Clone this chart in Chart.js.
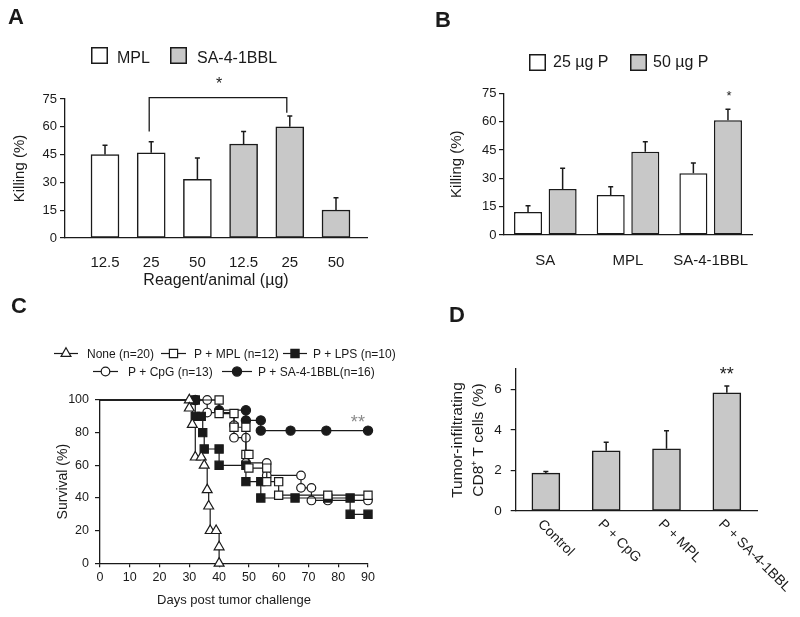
<!DOCTYPE html>
<html>
<head>
<meta charset="utf-8">
<script src="https://cdn.jsdelivr.net/npm/chart.js@4.4.0/dist/chart.umd.min.js"></script>
<style>
  body { margin: 0; background: #fff; width: 800px; height: 617px; position: relative; overflow: hidden; }
  canvas { position: absolute; }
</style>
</head>
<body>
<canvas id="chartA" width="400" height="290" style="left:0;top:0"></canvas>
<canvas id="chartB" width="400" height="300" style="left:400px;top:0"></canvas>
<canvas id="chartC" width="400" height="327" style="left:0;top:290px"></canvas>
<canvas id="chartD" width="400" height="317" style="left:400px;top:300px"></canvas>
<script>
// ---- data ----
// A: killing vs reagent dose
const doseLabels = ['12.5', '25', '50', '12.5', '25', '50'];
const mplKilling = [45, 46, 31.7];
const mplErr = [5, 6, 11.5];
const saKilling = [50.7, 60, 15.1];
const saErr = [6.7, 5.8, 6.6];

// B: killing by adjuvant and peptide dose
const adjuvants = ['SA', 'MPL', 'SA-4-1BBL'];
const killing25 = [12.2, 21.2, 32.7];
const err25 = [3.3, 4.4, 5.4];
const killing50 = [24.3, 44.1, 60.7];
const err50 = [11, 5.3, 5.8];

// C: survival (%) after tumor challenge, Kaplan-Meier steps
const noneDays = [0, 30, 30, 31, 32, 34, 35, 36, 36.5, 37, 39, 40, 40];
const noneSurv = [100, 100, 95, 85, 65, 65, 60, 45, 35, 20, 20, 10, 0];
const mplDays = [0, 40, 40, 45, 45, 49, 49, 50, 50, 56, 56, 60, 60, 76.5, 90];
const mplSurv = [100, 100, 91.7, 91.7, 83.3, 83.3, 66.7, 66.7, 58.3, 58.3, 50, 50, 41.7, 41.7, 41.7];
const lpsDays = [0, 32, 32, 34, 34.5, 35, 40, 40, 49, 49, 54, 54, 65.5, 76.5, 84, 84, 90];
const lpsSurv = [100, 100, 90, 90, 80, 70, 70, 60, 60, 50, 50, 40, 40, 40, 40, 30, 30];
const cpgDays = [0, 36, 36, 45, 45, 49, 49, 56, 56, 67.5, 67.5, 71, 71, 76.5, 90];
const cpgSurv = [100, 100, 92.3, 84.6, 76.9, 76.9, 61.5, 61.5, 53.8, 53.8, 46.2, 46.2, 38.5, 38.5, 38.5];
const saDays = [0, 32, 40, 49, 49, 54, 54, 64, 76, 90];
const saSurv = [100, 100, 93.75, 93.75, 87.5, 87.5, 81.25, 81.25, 81.25, 81.25];

// D: tumor-infiltrating CD8+ T cells
const groupsD = ['Control', 'P + CpG', 'P + MPL', 'P + SA-4-1BBL'];
const cd8Pct = [1.87, 2.97, 3.07, 5.83];
const cd8Err = [0.08, 0.42, 0.88, 0.33];

// ---- styling ----
const INK = '#1a1a1a';
const GRAY = '#c8c8c8';
const FONT = "'Liberation Sans', Arial, Helvetica, sans-serif";
Chart.defaults.font.family = FONT;
Chart.defaults.color = INK;

function text(ctx, str, x, y, size, opts) {
	opts = opts || {};
	ctx.save();
	ctx.font = (opts.bold ? 'bold ' : '') + size + 'px ' + FONT;
	ctx.fillStyle = opts.color || INK;
	ctx.textAlign = opts.align || 'left';
	ctx.textBaseline = 'alphabetic';
	ctx.fillText(str, x, y);
	ctx.restore();
}

function swatch(ctx, x, y, fill) {
	ctx.save();
	ctx.fillStyle = fill;
	ctx.fillRect(x, y, 17, 17);
	ctx.strokeStyle = INK;
	ctx.lineWidth = 1.5;
	ctx.strokeRect(x + 0.75, y + 0.75, 15.5, 15.5);
	ctx.restore();
}

function marker(ctx, style, x, y, r, fill) {
	ctx.save();
	ctx.beginPath();
	if (style === 'triangle') {
		ctx.moveTo(x, y - r);
		ctx.lineTo(x + 0.866 * r, y + 0.5 * r);
		ctx.lineTo(x - 0.866 * r, y + 0.5 * r);
		ctx.closePath();
	} else if (style === 'rect') {
		const s = r * Math.SQRT1_2;
		ctx.rect(x - s, y - s, 2 * s, 2 * s);
	} else {
		ctx.arc(x, y, r, 0, Math.PI * 2);
	}
	ctx.fillStyle = fill;
	ctx.fill();
	ctx.strokeStyle = INK;
	ctx.lineWidth = 1.2;
	ctx.stroke();
	ctx.restore();
}

// error bars drawn upward from the bar top, values from dataset.errors
const errorBars = {
	id: 'errorBars',
	afterDatasetsDraw(chart) {
		const ctx = chart.ctx;
		const y = chart.scales.y;
		ctx.save();
		ctx.strokeStyle = INK;
		ctx.lineWidth = 1.5;
		chart.data.datasets.forEach((ds, i) => {
			if (!ds.errors) return;
			chart.getDatasetMeta(i).data.forEach((bar, j) => {
				const v = ds.data[j];
				const val = typeof v === 'object' ? v.y : v;
				const top = y.getPixelForValue(val + ds.errors[j]);
				ctx.beginPath();
				ctx.moveTo(bar.x, bar.y);
				ctx.lineTo(bar.x, top);
				ctx.moveTo(bar.x - 2.5, top);
				ctx.lineTo(bar.x + 2.5, top);
				ctx.stroke();
			});
		});
		ctx.restore();
	}
};

const axisLine = { color: INK, width: 1.3 };
const tickMarks = { drawOnChartArea: false, drawTicks: true, tickLength: 5, color: INK, lineWidth: 1.2 };
const barStyle = { borderColor: INK, borderWidth: 1.5, borderSkipped: false };

// ---- A ----
new Chart(document.getElementById('chartA'), {
	type: 'bar',
	data: {
		datasets: [
			Object.assign({ label: 'MPL', data: mplKilling.map((v, i) => ({ x: i + 1, y: v })), errors: mplErr, backgroundColor: '#fff' }, barStyle),
			Object.assign({ label: 'SA-4-1BBL', data: saKilling.map((v, i) => ({ x: i + 4, y: v })), errors: saErr, backgroundColor: GRAY }, barStyle)
		]
	},
	options: {
		responsive: false,
		animation: false,
		events: [],
		layout: { padding: { top: 99, right: 33, left: 0, bottom: 0 } },
		plugins: { legend: { display: false }, tooltip: { enabled: false } },
		datasets: { bar: { grouped: false, barThickness: 28 } },
		scales: {
			x: {
				type: 'linear', min: 0.134, max: 6.671, offset: false,
				grid: { display: false },
				border: axisLine,
				afterBuildTicks: s => { s.ticks = doseLabels.map((_, i) => ({ value: i + 1 })); },
				ticks: { autoSkip: false, maxRotation: 0, padding: 8, font: { size: 15 }, callback: v => doseLabels[Math.round(v) - 1] },
				title: { display: true, text: 'Reagent/animal (µg)', font: { size: 16 }, padding: { top: 0, bottom: 0 } },
				afterFit: s => { s.height = 52; }
			},
			y: {
				min: 0, max: 75,
				ticks: { stepSize: 15, padding: 3, font: { size: 13 } },
				grid: tickMarks,
				border: axisLine,
				title: { display: true, text: 'Killing (%)', font: { size: 15 }, padding: { top: 11, bottom: 0 } },
				afterFit: s => { s.width = 65; }
			}
		}
	},
	plugins: [errorBars, {
		id: 'extrasA',
		afterDraw(chart) {
			const ctx = chart.ctx, x = chart.scales.x, y = chart.scales.y;
			text(ctx, 'A', 8, 24, 22, { bold: true });
			swatch(ctx, 91, 47, '#fff');
			text(ctx, 'MPL', 117, 63, 16);
			swatch(ctx, 170, 47, GRAY);
			text(ctx, 'SA-4-1BBL', 197, 63, 16);
			// significance bracket: MPL 25 vs SA-4-1BBL 25
			const xl = x.getPixelForValue(2) - 2, xr = x.getPixelForValue(5) - 3;
			const yt = y.getPixelForValue(75.7);
			ctx.save();
			ctx.strokeStyle = INK;
			ctx.lineWidth = 1.3;
			ctx.beginPath();
			ctx.moveTo(xl, y.getPixelForValue(57.4));
			ctx.lineTo(xl, yt);
			ctx.lineTo(xr, yt);
			ctx.lineTo(xr, y.getPixelForValue(67.6));
			ctx.stroke();
			ctx.restore();
			text(ctx, '*', (xl + xr) / 2 + 1, 89, 16, { align: 'center' });
		}
	}]
});

// ---- B ----
new Chart(document.getElementById('chartB'), {
	type: 'bar',
	data: {
		labels: adjuvants,
		datasets: [
			Object.assign({ label: '25 µg P', data: killing25, errors: err25, backgroundColor: '#fff' }, barStyle),
			Object.assign({ label: '50 µg P', data: killing50, errors: err50, backgroundColor: GRAY }, barStyle)
		]
	},
	options: {
		responsive: false,
		animation: false,
		events: [],
		layout: { padding: { top: 93.3, right: 48, left: 0, bottom: 0 } },
		plugins: { legend: { display: false }, tooltip: { enabled: false } },
		datasets: { bar: { categoryPercentage: 0.837, barPercentage: 0.81 } },
		scales: {
			x: {
				grid: { display: false },
				border: axisLine,
				ticks: { padding: 9, font: { size: 15 } },
				afterFit: s => { s.height = 65; }
			},
			y: {
				min: 0, max: 75,
				ticks: { stepSize: 15, padding: 2.5, font: { size: 13 } },
				grid: tickMarks,
				border: axisLine,
				title: { display: true, text: 'Killing (%)', font: { size: 15 }, padding: { top: 47.7, bottom: 0 } },
				afterFit: s => { s.width = 104; }
			}
		}
	},
	plugins: [errorBars, {
		id: 'extrasB',
		afterDraw(chart) {
			const ctx = chart.ctx;
			text(ctx, 'B', 35, 26.7, 22, { bold: true });
			swatch(ctx, 129, 54, '#fff');
			text(ctx, '25 µg P', 153, 66.7, 16);
			swatch(ctx, 230, 54, GRAY);
			text(ctx, '50 µg P', 253, 66.7, 16);
			const bar = chart.getDatasetMeta(1).data[2];
			const top = chart.scales.y.getPixelForValue(killing50[2] + err50[2]);
			text(ctx, '*', bar.x + 1, top - 9, 13, { align: 'center' });
		}
	}]
});

// ---- C ----
const survivalGroups = [
	{ label: 'None (n=20)', days: noneDays, surv: noneSurv, shape: 'triangle', r: 5.7, fill: '#fff' },
	{ label: 'P + MPL (n=12)', days: mplDays, surv: mplSurv, shape: 'rect', r: 5.8, fill: '#fff' },
	{ label: 'P + LPS (n=10)', days: lpsDays, surv: lpsSurv, shape: 'rect', r: 5.8, fill: INK },
	{ label: 'P + CpG (n=13)', days: cpgDays, surv: cpgSurv, shape: 'circle', r: 4.3, fill: '#fff' },
	{ label: 'P + SA-4-1BBL(n=16)', days: saDays, surv: saSurv, shape: 'circle', r: 4.6, fill: INK }
];

new Chart(document.getElementById('chartC'), {
	type: 'line',
	data: {
		datasets: survivalGroups.map(g => ({
			label: g.label,
			data: g.days.map((d, i) => ({ x: d, y: g.surv[i] })),
			stepped: true,
			clip: false,
			borderColor: INK,
			borderWidth: 1.2,
			pointStyle: g.shape,
			pointBackgroundColor: g.fill,
			pointBorderColor: INK,
			pointBorderWidth: 1.2,
			pointRadius: c => c.dataIndex === 0 ? 0 : g.r
		}))
	},
	options: {
		responsive: false,
		animation: false,
		events: [],
		layout: { padding: { top: 110, right: 32, left: 0, bottom: 0 } },
		plugins: { legend: { display: false }, tooltip: { enabled: false } },
		scales: {
			x: {
				type: 'linear', min: 0, max: 90,
				ticks: { stepSize: 10, padding: 3, font: { size: 12.5 }, maxRotation: 0 },
				grid: Object.assign({}, tickMarks, { tickLength: 4 }),
				border: axisLine,
				title: { display: true, text: 'Days post tumor challenge', font: { size: 13 }, padding: { top: 0, bottom: 9 } },
				afterFit: s => { s.height = 53.7; }
			},
			y: {
				min: 0, max: 100,
				ticks: { stepSize: 20, padding: 6, font: { size: 12.5 } },
				grid: tickMarks,
				border: axisLine,
				title: { display: true, text: 'Survival (%)', font: { size: 14 }, padding: { top: 54.6, bottom: 0 } },
				afterFit: s => { s.width = 100; }
			}
		}
	},
	plugins: [{
		id: 'extrasC',
		afterDraw(chart) {
			const ctx = chart.ctx;
			text(ctx, 'C', 11, 23, 22, { bold: true });
			// legend: [group index, line start, line end, text x, row y]
			const items = [[0, 54, 78, 87, 63.5], [1, 161, 186, 194, 63.5], [2, 283, 307, 313, 63.5],
				[3, 93, 118, 128, 81.5], [4, 222, 252, 258, 81.5]];
			items.forEach(([gi, x0, x1, tx, ry]) => {
				const g = survivalGroups[gi];
				ctx.save();
				ctx.strokeStyle = INK;
				ctx.lineWidth = 1.2;
				ctx.beginPath();
				ctx.moveTo(x0, ry);
				ctx.lineTo(x1, ry);
				ctx.stroke();
				ctx.restore();
				marker(ctx, g.shape, (x0 + x1) / 2, ry, g.r, g.fill);
				text(ctx, g.label, tx, ry + 4.5, 12);
			});
			const x = chart.scales.x, y = chart.scales.y;
			text(ctx, '**', x.getPixelForValue(86.6), y.getPixelForValue(89) + 10, 18, { align: 'center', color: '#8a8a8a' });
		}
	}]
});

// ---- D ----
new Chart(document.getElementById('chartD'), {
	type: 'bar',
	data: {
		labels: groupsD,
		datasets: [Object.assign({ label: 'CD8+ T cells', data: cd8Pct, errors: cd8Err, backgroundColor: GRAY }, barStyle)]
	},
	options: {
		responsive: false,
		animation: false,
		events: [],
		layout: { padding: { top: 69, right: 43, left: 0, bottom: 0 } },
		plugins: { legend: { display: false }, tooltip: { enabled: false } },
		datasets: { bar: { barThickness: 28 } },
		scales: {
			x: {
				grid: { display: false },
				border: axisLine,
				ticks: { display: false },
				afterFit: s => { s.height = 106; }
			},
			y: {
				min: 0, max: 7,
				afterBuildTicks: s => { s.ticks = s.ticks.filter(t => t.value % 2 === 0); },
				ticks: { stepSize: 2, padding: 9, font: { size: 13.5 } },
				grid: tickMarks,
				border: axisLine,
				title: { display: true, text: ['Tumor-infiltrating', 'CD8\u207A T cells (%)'], font: { size: 15.5, lineHeight: 1.3 }, padding: { top: 48, bottom: 0 } },
				afterFit: s => { s.width = 115.7; }
			}
		}
	},
	plugins: [errorBars, {
		id: 'extrasD',
		afterDraw(chart) {
			const ctx = chart.ctx, x = chart.scales.x;
			text(ctx, 'D', 49, 21.7, 22, { bold: true });
			// rotated category labels reading down to the right
			groupsD.forEach((lab, i) => {
				ctx.save();
				ctx.translate(x.getPixelForValue(i) - 6, chart.chartArea.bottom + 11);
				ctx.rotate(Math.PI / 4);
				ctx.font = '14px ' + FONT;
				ctx.fillStyle = INK;
				ctx.textAlign = 'left';
				ctx.textBaseline = 'middle';
				ctx.fillText(lab, 0, 0);
				ctx.restore();
			});
			const bar = chart.getDatasetMeta(0).data[3];
			const top = chart.scales.y.getPixelForValue(cd8Pct[3] + cd8Err[3]);
			text(ctx, '**', bar.x, top - 6, 18, { align: 'center' });
		}
	}]
});
</script>
</body>
</html>
